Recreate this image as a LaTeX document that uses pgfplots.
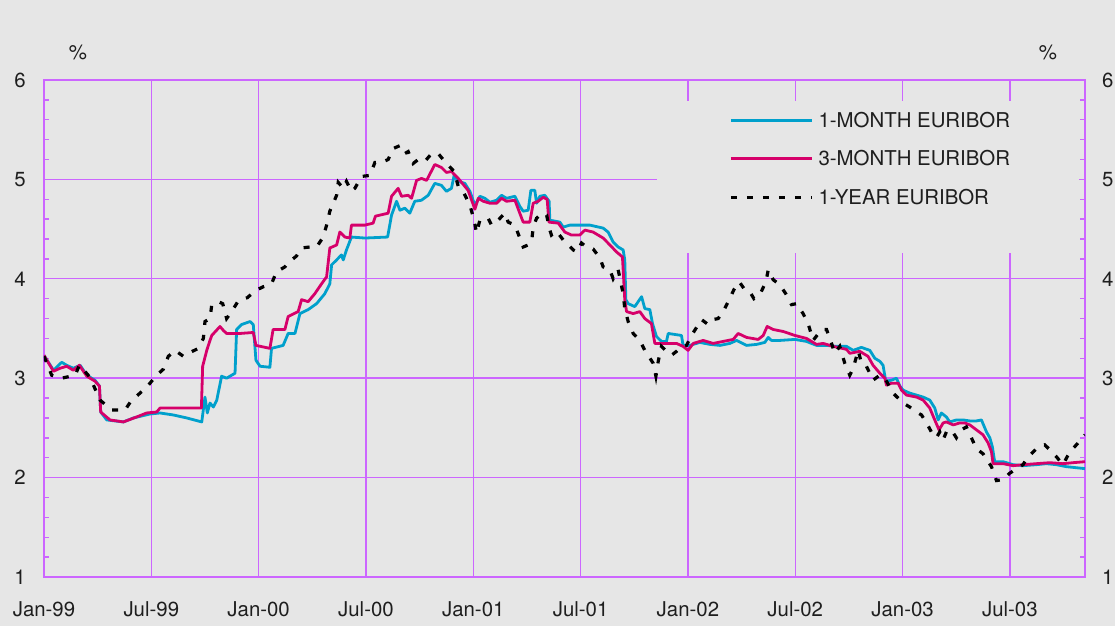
\documentclass[border=0pt]{standalone}
\usepackage{pgfplots}
\pgfplotsset{compat=1.18}
\usepackage{fontspec}
\setmainfont{TeX Gyre Heros}

\definecolor{bg}{RGB}{230,230,230}
\definecolor{gridc}{RGB}{204,102,255}
\definecolor{onem}{RGB}{0,160,204}
\definecolor{threem}{RGB}{214,0,106}
\definecolor{txt}{RGB}{30,30,30}
\newcommand\lf{\fontsize{10.2}{12}\selectfont}

\begin{document}
\begin{tikzpicture}[x=0.5pt,y=0.5pt]
\useasboundingbox[fill=bg] (0,0) rectangle (1115,626);

% main axis: x in months since Jan 1999
\begin{axis}[
    at={(22pt,24.5pt)}, anchor=south west,
    scale only axis, width=520.5pt, height=248.5pt,
    xmin=0, xmax=58.2, ymin=1, ymax=6,
    xtick={0,6,...,54},
    xticklabels={Jan-99,Jul-99,Jan-00,Jul-00,Jan-01,Jul-01,Jan-02,Jul-02,Jan-03,Jul-03},
    ytick={1,...,6},
    minor y tick num=4,
    ytick pos=both, yticklabel pos=left,
    xtick pos=bottom,
    major tick length=0pt, minor tick length=2.5pt,
    tick style={gridc, line width=0.7pt},
    axis line style={gridc, line width=0.7pt},
    grid=major, major grid style={gridc, line width=0.7pt},
    /pgf/number format/assume math mode=true,
    ticklabel style={font=\lf, text=txt, inner sep=0pt},
    yticklabel style={anchor=east, xshift=-9pt},
    xticklabel style={anchor=north, yshift=-12pt},
    legend style={at={(0.658,0.9346)}, anchor=north west, draw=none, fill=none,
        inner sep=0pt, row sep=11.95pt, column sep=2.5pt, font=\lf, text=txt,
        nodes={inner sep=0pt, text height=7.3pt, text depth=0pt}},
    legend cell align=left,
    legend image code/.code={\draw[#1] (0pt,0pt) -- (40.5pt,0pt);},
]
% blank panel behind the legend
\fill[bg] (axis cs:34.26,4.26) rectangle (axis cs:57.85,5.79);

\addplot[onem, line width=1.4pt, line join=round] coordinates {
(0,3.23)(0.53,3.08)(0.99,3.16)(1.27,3.13)(1.64,3.10)(2.02,3.13)(2.39,3.03)(2.85,2.98)(3.10,2.92)(3.17,2.66)
(3.51,2.58)(4.44,2.56)(5.0,2.60)(5.93,2.64)(6.49,2.65)(7.23,2.63)(7.98,2.60)(8.82,2.56)(9.0,2.81)(9.13,2.65)
(9.28,2.75)(9.47,2.71)(9.66,2.78)(9.93,3.02)(10.21,3.0)(10.68,3.05)(10.77,3.49)(11.05,3.54)(11.52,3.57)(11.7,3.54)
(11.85,3.18)(12.08,3.12)(12.63,3.11)(12.72,3.30)(13.37,3.33)(13.65,3.45)(14.03,3.45)(14.31,3.65)(14.77,3.69)(15.24,3.75)
(15.7,3.85)(15.98,3.95)(16.08,4.14)(16.36,4.19)(16.63,4.24)(16.73,4.19)(16.91,4.29)(17.19,4.42)(17.94,4.41)(19.21,4.42)
(19.43,4.64)(19.71,4.78)(19.9,4.69)(20.17,4.71)(20.45,4.66)(20.73,4.78)(21.1,4.79)(21.48,4.84)(21.85,4.96)(22.22,4.94)
(22.5,4.88)(22.78,4.91)(22.93,5.04)(23.16,4.98)(23.53,4.96)(23.81,4.88)(24.09,4.74)(24.37,4.83)(24.65,4.81)(24.93,4.77)
(25.3,4.79)(25.58,4.84)(25.86,4.81)(26.33,4.83)(26.6,4.73)(26.79,4.68)(27.07,4.69)(27.22,4.89)(27.44,4.89)(27.54,4.76)
(27.72,4.83)(28.0,4.84)(28.24,4.78)(28.28,4.59)(28.84,4.57)(29.03,4.52)(29.4,4.54)(30.52,4.54)(31.26,4.51)(31.54,4.47)
(31.82,4.37)(32.1,4.32)(32.38,4.29)(32.47,4.19)(32.53,3.79)(32.66,3.75)(33.03,3.72)(33.22,3.77)(33.41,3.82)(33.59,3.70)
(33.87,3.69)(34.02,3.55)(34.24,3.42)(34.52,3.37)(34.8,3.37)(34.9,3.45)(35.64,3.43)(35.73,3.33)(36.1,3.33)(36.67,3.36)
(37.23,3.34)(37.79,3.33)(38.35,3.35)(38.72,3.38)(39.28,3.33)(39.84,3.34)(40.3,3.36)(40.49,3.41)(40.67,3.38)(41.14,3.38)
(41.98,3.39)(42.63,3.37)(43.19,3.33)(43.75,3.33)(44.31,3.32)(44.87,3.32)(45.24,3.28)(45.7,3.31)(46.17,3.28)(46.45,3.20)
(46.73,3.17)(46.91,3.13)(47.06,2.97)(47.38,2.98)(47.66,3.0)(47.85,2.92)(48.03,2.88)(48.4,2.85)(48.78,2.83)(49.15,2.81)
(49.52,2.78)(49.8,2.70)(49.99,2.58)(50.17,2.65)(50.45,2.61)(50.64,2.56)(51.01,2.58)(51.38,2.58)(51.76,2.57)(52.13,2.57)
(52.41,2.58)(52.69,2.46)(52.88,2.40)(53.02,2.31)(53.15,2.16)(53.62,2.16)(54.18,2.13)(54.74,2.12)(55.48,2.13)(56.04,2.14)
(56.6,2.13)(57.16,2.11)(58.2,2.09)
};
\addlegendentry{1-MONTH EURIBOR}

\addplot[threem, line width=1.4pt, line join=round] coordinates {
(0,3.23)(0.53,3.07)(0.9,3.10)(1.27,3.12)(1.64,3.08)(1.98,3.13)(2.39,3.02)(2.85,2.97)(3.1,2.92)(3.17,2.66)
(3.69,2.58)(4.44,2.56)(5.18,2.61)(5.74,2.65)(6.3,2.66)(6.49,2.70)(7.23,2.70)(7.98,2.70)(8.8,2.70)(8.87,3.12)
(9.1,3.28)(9.28,3.38)(9.38,3.43)(9.84,3.52)(10.03,3.48)(10.21,3.45)(10.96,3.45)(11.7,3.46)(11.85,3.33)(12.63,3.30)
(12.81,3.49)(13.47,3.49)(13.65,3.62)(14.21,3.67)(14.4,3.79)(14.77,3.77)(15.14,3.85)(15.52,3.95)(15.8,4.02)(15.98,4.31)
(16.36,4.34)(16.54,4.47)(16.82,4.42)(17.1,4.41)(17.19,4.54)(17.94,4.54)(18.4,4.56)(18.53,4.63)(19.24,4.66)(19.43,4.83)
(19.8,4.91)(19.99,4.83)(20.36,4.84)(20.55,4.81)(20.83,4.99)(21.11,5.01)(21.39,4.99)(21.85,5.15)(22.22,5.12)(22.5,5.07)
(22.78,5.08)(23.16,5.01)(23.71,4.89)(24.09,4.70)(24.28,4.81)(24.56,4.78)(24.93,4.76)(25.3,4.76)(25.58,4.81)(25.86,4.78)
(26.33,4.79)(26.6,4.66)(26.79,4.57)(27.16,4.57)(27.35,4.76)(27.63,4.78)(27.91,4.82)(28.13,4.80)(28.23,4.57)(28.75,4.56)
(29.12,4.47)(29.49,4.44)(29.96,4.44)(30.24,4.49)(30.7,4.47)(30.98,4.44)(31.26,4.41)(31.64,4.34)(32.01,4.27)(32.34,4.22)
(32.47,3.79)(32.57,3.67)(32.94,3.65)(33.31,3.67)(33.59,3.60)(33.96,3.55)(34.15,3.35)(34.52,3.35)(35.36,3.35)(35.73,3.32)
(36.01,3.28)(36.3,3.35)(36.85,3.38)(37.41,3.35)(37.97,3.37)(38.53,3.39)(38.81,3.45)(39.28,3.41)(39.93,3.39)(40.21,3.43)
(40.43,3.52)(40.77,3.49)(41.33,3.47)(41.98,3.43)(42.63,3.40)(43.19,3.34)(43.56,3.35)(44.12,3.32)(44.87,3.29)(45.05,3.25)
(45.61,3.27)(46.07,3.22)(46.35,3.13)(46.73,3.05)(47.01,3.0)(47.1,2.93)(47.38,2.95)(47.75,2.95)(47.94,2.88)(48.22,2.83)
(48.78,2.81)(49.15,2.78)(49.52,2.70)(49.8,2.58)(50.04,2.48)(50.27,2.55)(50.45,2.56)(50.83,2.53)(51.2,2.55)(51.48,2.55)
(51.76,2.53)(52.13,2.48)(52.5,2.43)(52.78,2.35)(52.97,2.26)(53.06,2.14)(53.62,2.14)(54.18,2.12)(54.74,2.13)(55.48,2.14)
(56.23,2.15)(56.97,2.14)(57.53,2.15)(58.2,2.16)
};
\addlegendentry{3-MONTH EURIBOR}

\addplot[black, line width=1.6pt, dash pattern=on 3pt off 5pt] coordinates {
(0,3.22)(0.43,3.03)(0.99,3.0)(1.74,3.03)(1.98,3.13)(2.57,3.01)(3.13,2.78)(3.79,2.68)(4.53,2.68)(4.9,2.78)
(5.18,2.82)(5.74,2.91)(6.02,2.97)(6.3,3.03)(6.67,3.09)(6.95,3.22)(7.33,3.28)(7.79,3.22)(8.07,3.25)(8.63,3.30)
(8.91,3.40)(9.0,3.57)(9.28,3.60)(9.38,3.74)(9.75,3.77)(9.99,3.75)(10.21,3.60)(10.49,3.67)(10.87,3.78)(11.37,3.81)
(11.8,3.88)(12.26,3.92)(12.72,3.95)(13.0,4.07)(13.47,4.12)(13.65,4.16)(14.12,4.23)(14.4,4.31)(14.86,4.32)(15.24,4.32)
(15.61,4.42)(15.8,4.54)(15.98,4.68)(16.17,4.76)(16.36,4.84)(16.45,4.97)(16.73,4.91)(16.91,4.98)(17.19,4.88)(17.38,4.91)
(17.75,5.03)(18.22,5.04)(18.5,5.17)(18.87,5.17)(19.24,5.20)(19.52,5.31)(19.9,5.34)(20.17,5.26)(20.36,5.28)(20.64,5.16)
(20.92,5.20)(21.29,5.18)(21.67,5.26)(22.04,5.26)(22.5,5.16)(22.93,5.08)(23.16,4.93)(23.43,4.88)(23.81,4.74)(24.05,4.59)
(24.18,4.46)(24.37,4.59)(24.83,4.61)(25.02,4.54)(25.39,4.59)(25.77,4.66)(25.95,4.57)(26.33,4.54)(26.6,4.41)(26.79,4.32)
(27.07,4.34)(27.26,4.37)(27.35,4.52)(27.54,4.61)(27.82,4.66)(28.1,4.64)(28.28,4.49)(28.37,4.44)(28.65,4.48)(29.03,4.39)
(29.31,4.34)(29.59,4.29)(29.81,4.27)(30.05,4.36)(30.33,4.32)(30.7,4.30)(31.08,4.21)(31.26,4.12)(31.64,4.09)(31.82,4.00)
(32.1,4.09)(32.38,3.85)(32.47,3.70)(32.66,3.57)(32.94,3.45)(33.31,3.38)(33.59,3.28)(34.06,3.15)(34.21,3.02)(34.34,3.17)
(34.52,3.32)(34.8,3.27)(35.08,3.23)(35.36,3.27)(35.64,3.32)(35.92,3.33)(36.2,3.43)(36.76,3.59)(37.13,3.54)(37.41,3.59)
(37.69,3.60)(37.97,3.67)(38.31,3.79)(38.57,3.89)(38.87,3.97)(39.18,3.89)(39.46,3.87)(39.69,3.80)(40.02,3.84)(40.36,3.97)
(40.49,4.09)(40.77,3.99)(41.14,3.94)(41.47,3.85)(41.79,3.74)(42.07,3.75)(42.44,3.65)(42.72,3.55)(43.0,3.38)(43.47,3.49)
(43.75,3.49)(44.03,3.35)(44.21,3.25)(44.49,3.32)(44.77,3.15)(45.05,3.03)(45.24,3.10)(45.52,3.28)(45.7,3.15)(45.98,3.12)
(46.35,2.98)(46.73,3.03)(47.01,3.0)(47.47,2.85)(48.03,2.75)(48.4,2.71)(48.78,2.66)(49.06,2.63)(49.34,2.55)(49.61,2.46)
(49.89,2.40)(50.08,2.46)(50.27,2.38)(50.45,2.46)(50.73,2.48)(51.01,2.40)(51.29,2.48)(51.57,2.51)(51.85,2.40)(52.13,2.29)
(52.5,2.24)(52.97,2.11)(53.25,1.97)(53.62,1.98)(53.96,2.04)(54.37,2.09)(54.74,2.13)(54.93,2.19)(55.2,2.24)(55.48,2.29)
(55.95,2.33)(56.23,2.28)(56.6,2.21)(56.97,2.13)(57.35,2.26)(57.72,2.33)(58.2,2.43)
};
\addlegendentry{1-YEAR EURIBOR}
\end{axis}

% second axis only for the right-hand tick labels
\begin{axis}[
    at={(22pt,24.5pt)}, anchor=south west,
    scale only axis, width=520.5pt, height=248.5pt,
    xmin=0, xmax=58.2, ymin=1, ymax=6,
    hide x axis, axis y line*=right,
    y axis line style={draw=none},
    ytick={1,...,6}, minor y tick num=0, major tick length=0pt,
    /pgf/number format/assume math mode=true,
    yticklabel style={font=\lf, text=txt, inner sep=0pt, anchor=west, xshift=8.3pt},
]
\end{axis}

\node[font=\lf, text=txt] at (78,574) {\%};
\node[font=\lf, text=txt] at (1048,574) {\%};
\end{tikzpicture}
\end{document}
